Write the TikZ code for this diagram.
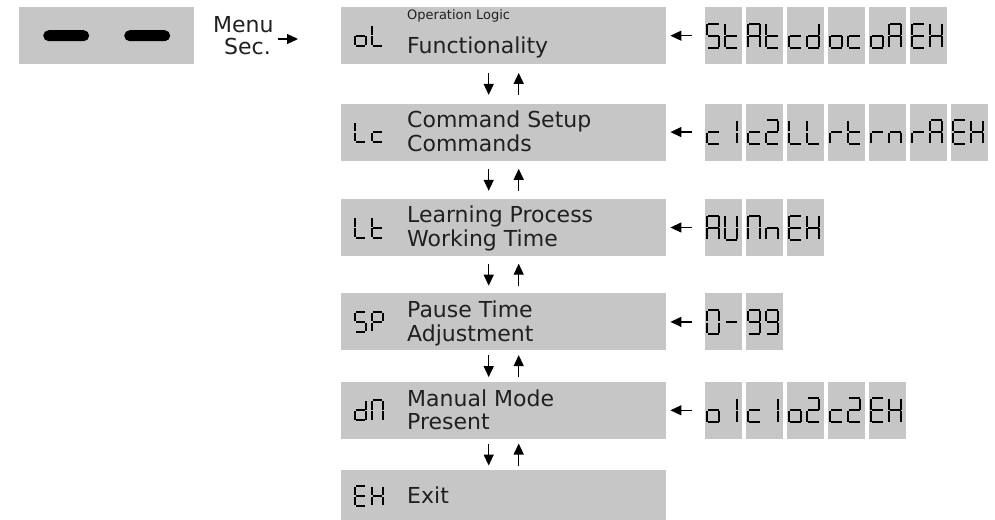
\documentclass[tikz,border=0pt]{standalone}
\usepackage{fontspec}
\setmainfont{DejaVu Sans}
\usetikzlibrary{arrows.meta,positioning}
\definecolor{cpanel}{HTML}{C6C6C6}
\definecolor{cink}{HTML}{202020}

% segments lit for each display character (a top, b/c right, d bottom, e/f left, g middle)
\newcommand{\defchar}[2]{\expandafter\def\csname segchar#1\endcsname{#2}}
\defchar{S}{a,c,d,f,g}
\defchar{t}{d,e,f,g}
\defchar{A}{a,b,c,e,f,g}
\defchar{c}{d,e,g}
\defchar{d}{b,c,d,e,g}
\defchar{o}{c,d,e,g}
\defchar{E}{a,d,e,f,g}
\defchar{H}{b,c,e,f,g}
\defchar{L}{d,e,f}
\defchar{P}{a,b,e,f,g}
\defchar{M}{a,b,c,e,f}
\defchar{n}{c,e,g}
\defchar{U}{b,c,d,e,f}
\defchar{r}{e,g}
\defchar{1}{b,c}
\defchar{2}{a,b,d,e,g}
\defchar{0}{a,b,c,d,e,f}
\defchar{9}{a,b,c,d,f,g}
\defchar{-}{g}

% glyph size: width \gw, height \gh, joint gap \gg
\def\gw{11}\def\gh{20}\def\gg{0.8}
\def\segparta{\draw[seg] (\gg,0) -- (\gw-\gg,0);}
\def\segpartb{\draw[seg] (\gw,\gg) -- (\gw,\gh/2-\gg);}
\def\segpartc{\draw[seg] (\gw,\gh/2+\gg) -- (\gw,\gh-\gg);}
\def\segpartd{\draw[seg] (\gg,\gh) -- (\gw-\gg,\gh);}
\def\segparte{\draw[seg] (0,\gh/2+\gg) -- (0,\gh-\gg);}
\def\segpartf{\draw[seg] (0,\gg) -- (0,\gh/2-\gg);}
\def\segpartg{\draw[seg] (\gg,\gh/2) -- (\gw-\gg,\gh/2);}

% one character, #1 = top left corner
\newcommand{\sevenseg}[2]{%
  \begin{scope}[shift={#1}]
    \edef\seglist{\csname segchar#2\endcsname}%
    \foreach \sg in \seglist {\csname segpart\sg\endcsname}
  \end{scope}}

% row of option displays to the right of a menu entry
\newcommand{\optionrow}[3]{%
  \foreach \ca/\cb [count=\k from 0] in {#3}{
    \node[cell,anchor=west] (#2-\k) at ([xshift=38pt+41pt*\k]#1.east) {};
    \sevenseg{([xshift=3pt,yshift=12pt]#2-\k.west)}{\ca}
    \sevenseg{([xshift=21pt,yshift=12pt]#2-\k.west)}{\cb}
  }
  \draw[arr,shorten <=12pt,shorten >=4pt] (#2-0.west) -- (#1.east);
}

\begin{document}
\begin{tikzpicture}[
  x=1pt,y=-1pt,
  stage/.style={fill=cpanel,minimum width=325pt,minimum height=57pt,inner sep=0pt},
  cell/.style={fill=cpanel,minimum width=37pt,minimum height=57pt,inner sep=0pt},
  bar/.style={fill=black,rounded corners=5.5pt,minimum width=46pt,minimum height=11pt,inner sep=0pt},
  txt/.style={font=\fontsize{22}{24}\selectfont,text=cink,inner sep=0pt,anchor=base west},
  small/.style={font=\fontsize{13}{15}\selectfont,text=cink,inner sep=0pt,anchor=base west},
  seg/.style={line width=2pt,line cap=butt,black},
  arr/.style={-{Triangle[length=11pt,width=10pt]},line width=1.3pt,black}]
  \useasboundingbox (0,0) rectangle (995,519);

  % key panel
  \node[fill=cpanel,minimum width=175pt,minimum height=57pt,inner sep=0pt,anchor=north west] (keys) at (19,7) {};
  \node[bar] (keyl) at ([xshift=-40.5pt]keys.center) {};
  \node[bar] (keyr) at ([xshift=40.5pt]keys.center) {};
  \node[txt] (menu) at (213,33) {Menu};
  \node[txt] (sec) at (224,55) {Sec.};

  % menu entries
  \node[stage,anchor=north west] (s1) at (341,7) {};
  \node[stage,below=39pt of s1] (s2) {};
  \node[stage,below=38pt of s2] (s3) {};
  \node[stage,below=37pt of s3] (s4) {};
  \node[stage,below=31pt of s4] (s5) {};
  \node[stage,below=31pt of s5,minimum height=51pt] (s6) {};

  \coordinate (menuout) at (278,39);
  \draw[arr,shorten >=43pt] (menuout) -- (menuout -| s1.west);

  \node[small] (s1a) at ([xshift=66pt,yshift=-13pt]s1.north west) {Operation Logic};
  \node[txt] (s1b) at ([xshift=66pt,yshift=-47pt]s1.north west) {Functionality};
  \node[txt] (s2a) at ([xshift=66pt,yshift=-24pt]s2.north west) {Command Setup};
  \node[txt] (s2b) at ([xshift=66pt,yshift=-48pt]s2.north west) {Commands};
  \node[txt] (s3a) at ([xshift=66pt,yshift=-24pt]s3.north west) {Learning Process};
  \node[txt] (s3b) at ([xshift=66pt,yshift=-48pt]s3.north west) {Working Time};
  \node[txt] (s4a) at ([xshift=66pt,yshift=-24pt]s4.north west) {Pause Time};
  \node[txt] (s4b) at ([xshift=66pt,yshift=-48pt]s4.north west) {Adjustment};
  \node[txt] (s5a) at ([xshift=66pt,yshift=-25pt]s5.north west) {Manual Mode};
  \node[txt] (s5b) at ([xshift=66pt,yshift=-48pt]s5.north west) {Present};
  \node[txt] (s6a) at ([xshift=66pt,yshift=-8pt]s6.west) {Exit};

  \foreach \nm/\ca/\cb in {s1/o/L,s2/L/c,s3/L/t,s4/S/P,s5/d/M,s6/E/H}{
    \sevenseg{([xshift=14pt,yshift=10pt]\nm.west)}{\ca}
    \sevenseg{([xshift=31pt,yshift=10pt]\nm.west)}{\cb}
  }

  % up / down navigation
  \foreach \a/\b/\s in {s1/s2/8.5,s2/s3/8,s3/s4/7.5,s4/s5/4.5,s5/s6/4.5}{
    \draw[arr,shorten <=\s pt,shorten >=\s pt] ([xshift=-15pt]\a.south) -- ([xshift=-15pt]\b.north);
    \draw[arr,shorten <=\s pt,shorten >=\s pt] ([xshift=15pt]\b.north) -- ([xshift=15pt]\a.south);
  }

  % option displays
  \def\gw{12}\def\gh{24}
  \optionrow{s1}{o1}{S/t,A/t,c/d,o/c,o/A,E/H}
  \optionrow{s2}{o2}{c/1,c/2,L/L,r/t,r/n,r/A,E/H}
  \optionrow{s3}{o3}{A/U,M/n,E/H}
  \optionrow{s4}{o4}{0/-,9/9}
  \optionrow{s5}{o5}{o/1,c/1,o/2,c/2,E/H}
\end{tikzpicture}
\end{document}
